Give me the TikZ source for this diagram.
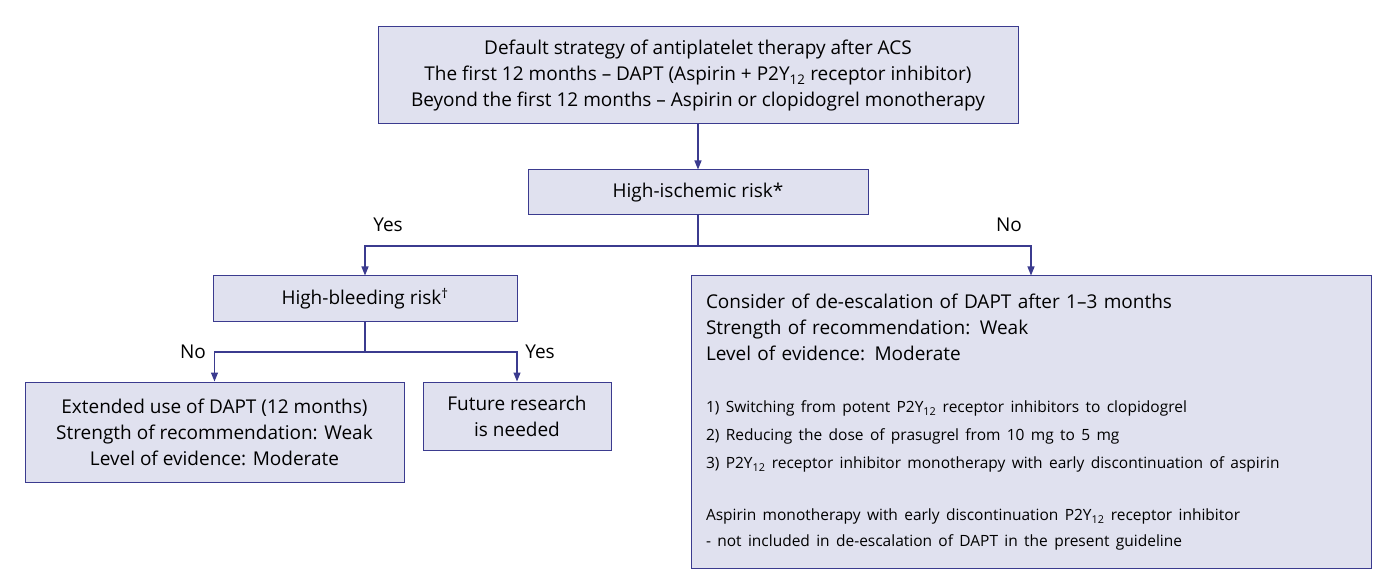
\documentclass[tikz,border=0pt]{standalone}
\usepackage{fontspec}
\setmainfont{Open Sans}
\usetikzlibrary{positioning, arrows.meta}
\definecolor{boxfill}{HTML}{E0E1EF}
\definecolor{boxline}{HTML}{3B3B8F}
\newcommand{\Ptwo}{P2Y\textsubscript{12}}

\begin{document}
\begin{tikzpicture}[
    x=1pt, y=-1pt,
    >={Triangle[length=9pt, width=7pt]},
    every node/.style={font=\fontsize{19}{26}\selectfont},
    stepbox/.style={draw=boxline, fill=boxfill, line width=1pt, inner sep=0pt, align=center, minimum width=#1},
    flow/.style={draw=boxline, line width=1.2pt},
    answer/.style={font=\fontsize{19}{26}\selectfont}
]
\useasboundingbox (0,0) rectangle (1392,585);

\node[stepbox=640pt, minimum height=97pt] (default) at (698,75.5)
    {Default strategy of antiplatelet therapy after ACS\\
     The first 12 months -- DAPT (Aspirin + \Ptwo{} receptor inhibitor)\\
     Beyond the first 12 months -- Aspirin or clopidogrel monotherapy};
\node[stepbox=340pt, minimum height=45pt] (ischemic) at (698,192.5) {High-ischemic risk*};
\node[stepbox=304pt, minimum height=45pt] (bleeding) at (365,298.5) {High-bleeding risk\textsuperscript{\dag}};
\node[stepbox=379pt, minimum height=100pt] (extended) at (214.5,432)
    {Extended use of DAPT (12 months)\\
     Strength of recommendation: Weak\\
     Level of evidence: Moderate};
\node[stepbox=188pt, minimum height=68pt] (future) at (517,416) {Future research\\is needed};
\node[stepbox=680pt, minimum height=292pt, align=left, text width=650pt] (deesc) at (1031,422)
    {Consider of de-escalation of DAPT after 1--3 months\\
     Strength of recommendation: Weak\\
     Level of evidence: Moderate\\[24pt]
     {\fontsize{15.5}{28}\selectfont 1) Switching from potent \Ptwo{} receptor inhibitors to clopidogrel\\
     2) Reducing the dose of prasugrel from 10 mg to 5 mg\\
     3) \Ptwo{} receptor inhibitor monotherapy with early discontinuation of aspirin\\[24pt]
     Aspirin monotherapy with early discontinuation \Ptwo{} receptor inhibitor\\
     - not included in de-escalation of DAPT in the present guideline}};

\coordinate (split1) at (698,246);
\coordinate (split2) at (365,352);

\draw[flow, ->] (default) -- (ischemic);
\draw[flow] (ischemic) -- (split1);
\draw[flow, ->] (split1) -| (bleeding);
\draw[flow, ->] (split1) -| (deesc);
\draw[flow] (bleeding) -- (split2);
\draw[flow, ->] (split2) -| (extended);
\draw[flow, ->] (split2) -| (future);

\node[answer] (yes1) at (388,225) {Yes};
\node[answer] (no1) at (1009,225) {No};
\node[answer] (no2) at (193,352) {No};
\node[answer] (yes2) at (540,352) {Yes};
\end{tikzpicture}
\end{document}
